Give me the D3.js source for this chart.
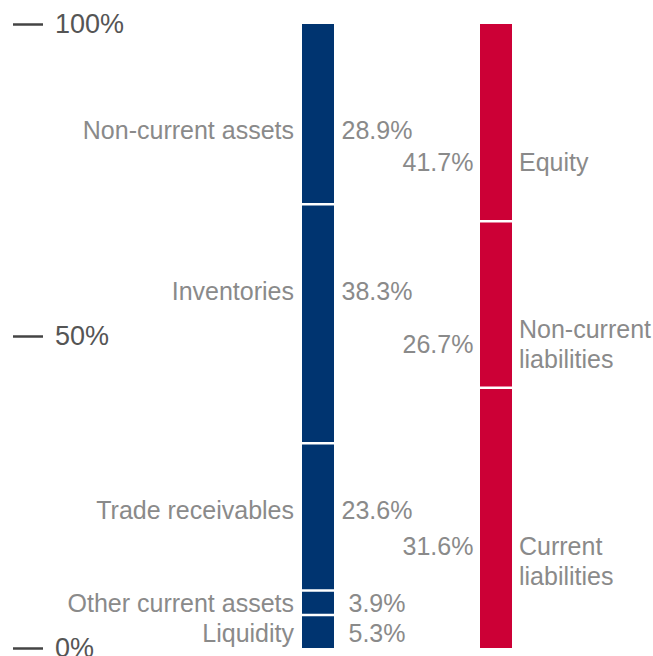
<!DOCTYPE html>
<html>
<head>
<meta charset="utf-8">
<script src="https://cdn.jsdelivr.net/npm/d3@7/dist/d3.min.js"></script>
<style>
  body { margin: 0; background: #fff; }
  svg text { font-family: "Liberation Sans", Arial, Helvetica, sans-serif; }
  .axis .domain { display: none; }
  .axis line { stroke: #444; stroke-width: 2.5; }
  .axis text { fill: #555; font-size: 27px; }
  .lbl { fill: #8a8a8a; font-size: 25px; }
</style>
</head>
<body>
<svg class="scene"></svg>
<script>

//
// data
//

var assetNames = ["Non-current assets", "Inventories", "Trade receivables", "Other current assets", "Liquidity"];
var assetShares = [28.9, 38.3, 23.6, 3.9, 5.3];

var liabilityNames = ["Equity", "Non-current liabilities", "Current liabilities"];
var liabilityShares = [41.7, 26.7, 31.6];

var tickValues = [0, 50, 100];

//
// scene
//

var width = 653,
    height = 656;

var scene = d3.select(".scene")
    .attr("width", width)
    .attr("height", height);

var y = d3.scaleLinear().domain([0, 100]).range([648, 24]);

var barW = 32;
var assetX = 302;
var liabX = 480;

// axis
scene.append("g")
    .attr("class", "axis")
    .attr("transform", "translate(13,0)")
    .call(d3.axisRight(y)
        .tickValues(tickValues)
        .tickSize(30)
        .tickPadding(12)
        .tickFormat(function (d) { return d + "%"; }));

// stack helpers: top-down cumulative, bottom-up cumulative
function topDown(vals) {
    var acc = 100;
    return vals.map(function (v) { var s = { hi: acc, lo: acc - v }; acc -= v; return s; });
}
function bottomUp(vals) {
    var acc = 0;
    return vals.map(function (v) { var s = { lo: acc, hi: acc + v }; acc += v; return s; });
}

function drawBar(segs, x, color) {
    var g = scene.append("g");
    g.selectAll("rect")
        .data(segs)
        .enter().append("rect")
        .attr("x", x)
        .attr("width", barW)
        .attr("y", function (d) { return y(d.hi); })
        .attr("height", function (d) { return y(d.lo) - y(d.hi); })
        .attr("fill", color);
    // white separators
    g.selectAll("line")
        .data(segs.filter(function (d) { return d.lo > 0.01; }))
        .enter().append("line")
        .attr("x1", x - 1)
        .attr("x2", x + barW + 1)
        .attr("y1", function (d) { return y(d.lo); })
        .attr("y2", function (d) { return y(d.lo); })
        .attr("stroke", "#fff")
        .attr("stroke-width", 2.5);
}

//
// assets (blue)
//

var assetSegs = topDown(assetShares);
drawBar(assetSegs, assetX, "#003470");

// label nudges (px) from segment centres
var assetShift = [16, -33, -7, 0, 1.5];

assetSegs.forEach(function (d, i) {
    var cy = (y(d.hi) + y(d.lo)) / 2 + assetShift[i];
    scene.append("text")
        .attr("class", "lbl")
        .attr("x", assetX - 8)
        .attr("y", cy)
        .attr("dy", "0.35em")
        .attr("text-anchor", "end")
        .text(assetNames[i]);
    scene.append("text")
        .attr("class", "lbl")
        .attr("x", assetX + barW + 43)
        .attr("y", cy)
        .attr("dy", "0.35em")
        .attr("text-anchor", "middle")
        .text(d3.format(".1f")(assetShares[i]) + "%");
});

//
// liabilities (red)
//

drawBar(bottomUp(liabilityShares), liabX, "#cc0036");

var liabLabelSegs = topDown(liabilityShares);
var liabShift = [8, -23.5, 12];
var liabPctShift = [8, -23.5, -3];
var lineH = 29.5;

liabLabelSegs.forEach(function (d, i) {
    var mid = (y(d.hi) + y(d.lo)) / 2;
    var cy = mid + liabShift[i];
    scene.append("text")
        .attr("class", "lbl")
        .attr("x", liabX - 42)
        .attr("y", mid + liabPctShift[i])
        .attr("dy", "0.35em")
        .attr("text-anchor", "middle")
        .text(d3.format(".1f")(liabilityShares[i]) + "%");

    var words = liabilityNames[i].split(" ");
    var t = scene.append("text")
        .attr("class", "lbl")
        .attr("x", liabX + barW + 7)
        .attr("y", cy - (words.length - 1) * lineH / 2);
    words.forEach(function (w, j) {
        t.append("tspan")
            .attr("x", liabX + barW + 7)
            .attr("dy", j === 0 ? "0.35em" : lineH)
            .text(w);
    });
});

</script>
</body>
</html>
